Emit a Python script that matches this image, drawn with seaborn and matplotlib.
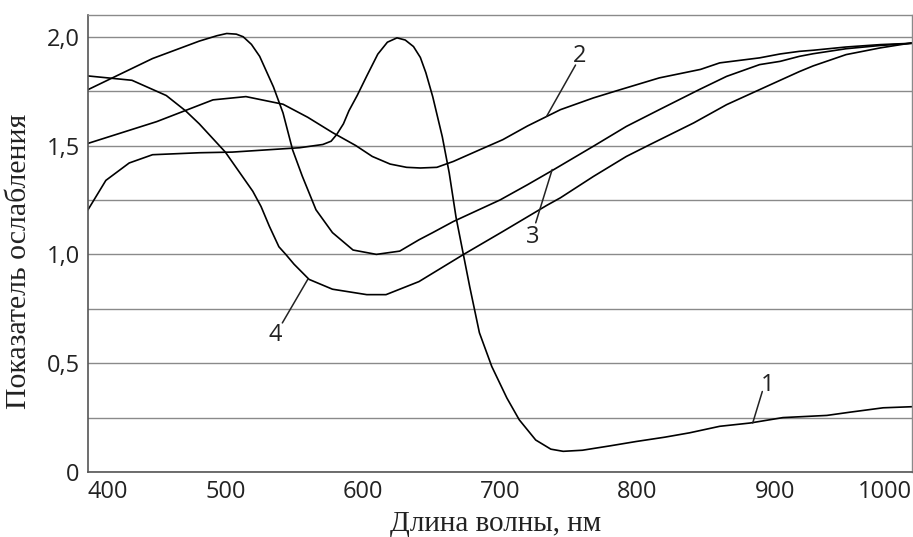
import numpy as np
import pandas as pd
import matplotlib
matplotlib.use("Agg")
import matplotlib.pyplot as plt
from matplotlib.ticker import FuncFormatter, MultipleLocator
import seaborn as sns

# wavelength (nm) / attenuation readings for the four curves
x1 = [400, 413, 430, 447, 481, 505, 554, 571, 577, 581, 586, 590, 596, 603, 611, 618, 625, 631,
      637, 642, 646, 651, 658, 663, 668, 673, 678, 685, 694, 705, 714, 726, 737, 746, 760, 780,
      799, 820, 838, 860, 882, 906, 938, 955, 979, 1000]
y1 = [1.205, 1.34, 1.42, 1.458, 1.467, 1.47, 1.49, 1.505, 1.52, 1.55, 1.60, 1.66, 1.73, 1.82,
      1.92, 1.975, 1.995, 1.985, 1.955, 1.905, 1.835, 1.725, 1.54, 1.375, 1.17, 1.01, 0.85, 0.64,
      0.485, 0.34, 0.24, 0.147, 0.105, 0.095, 0.10, 0.12, 0.14, 0.16, 0.18, 0.21, 0.225, 0.25,
      0.26, 0.275, 0.295, 0.30]

x2 = [400, 450, 491, 515, 542, 560, 578, 595, 607, 620, 632, 642, 654, 666, 685, 702, 720,
      744, 768, 785, 816, 846, 860, 889, 904, 918, 928, 952, 977, 1000]
y2 = [1.51, 1.61, 1.71, 1.725, 1.69, 1.63, 1.56, 1.50, 1.45, 1.415, 1.40, 1.397, 1.40, 1.427,
      1.48, 1.527, 1.59, 1.665, 1.719, 1.752, 1.811, 1.85, 1.88, 1.903, 1.921, 1.933, 1.938,
      1.953, 1.964, 1.97]

x3 = [400, 447, 481, 494, 501, 508, 513, 519, 525, 535, 542, 549, 556, 566, 578, 593, 610, 627,
      641, 651, 666, 700, 720, 739, 768, 792, 816, 845, 865, 889, 904, 918, 928, 952, 977, 1000]
y3 = [1.757, 1.90, 1.98, 2.005, 2.015, 2.012, 2.0, 1.965, 1.91, 1.77, 1.65, 1.48, 1.36, 1.205,
      1.10, 1.02, 1.0, 1.015, 1.067, 1.10, 1.151, 1.25, 1.32, 1.389, 1.497, 1.588, 1.665, 1.757,
      1.818, 1.872, 1.887, 1.91, 1.922, 1.945, 1.96, 1.97]

x4 = [400, 432, 457, 471, 481, 500, 520, 526, 532, 539, 544, 550, 561, 578, 603, 617, 641,
      673, 702, 734, 744, 768, 792, 809, 841, 865, 889, 904, 918, 928, 952, 977, 1000]
y4 = [1.82, 1.80, 1.73, 1.66, 1.60, 1.47, 1.29, 1.22, 1.13, 1.035, 1.0, 0.955, 0.885, 0.84,
      0.815, 0.815, 0.875, 0.998, 1.105, 1.225, 1.26, 1.358, 1.45, 1.504, 1.604, 1.688, 1.757,
      1.80, 1.84, 1.866, 1.918, 1.949, 1.972]

# curve labels: text, text position, leader line ends
labels = ["1", "2", "3", "4"]
label_text_xy = [(895, 0.40), (758, 1.91), (724, 1.08), (536, 0.63)]
label_line_from = [(891, 0.37), (755, 1.87), (726, 1.145), (541.5, 0.685)]
label_line_to = [(884, 0.225), (734, 1.635), (738, 1.39), (560, 0.885)]

sns.set_style("white")
plt.rcParams['font.family'] = ['Open Sans', 'DejaVu Sans']

fig = plt.figure(figsize=(9.13, 5.37), dpi=100)
ax = fig.add_axes([88 / 913, 1 - 472 / 537, 824 / 913, 457 / 537])

for xs, ys in [(x1, y1), (x2, y2), (x3, y3), (x4, y4)]:
    d = pd.DataFrame({'x': xs, 'y': ys})
    sns.lineplot(data=d, x='x', y='y', ax=ax, color='black', linewidth=1.2, sort=False)

for lab, txy, p0, p1 in zip(labels, label_text_xy, label_line_from, label_line_to):
    ax.text(txy[0], txy[1], lab, fontsize=17, ha='center', va='center', color='#222222')
    ax.plot([p0[0], p1[0]], [p0[1], p1[1]], color='#222222', linewidth=1.1)

ax.set_xlim(400, 1000)
ax.set_ylim(0, 2.1)
ax.yaxis.set_major_locator(MultipleLocator(0.5))
ax.yaxis.set_minor_locator(MultipleLocator(0.25))
ax.yaxis.set_major_formatter(FuncFormatter(lambda v, p: '0' if v == 0 else f'{v:.1f}'.replace('.', ',')))
ax.set_xticks([400, 500, 600, 700, 800, 900, 1000])
ax.grid(axis='y', which='both', color='#8a8a8a', linewidth=1.0)
ax.set_axisbelow(True)

ax.tick_params(axis='y', which='both', length=0, labelsize=17, pad=6, labelcolor='#222222')
ax.tick_params(axis='x', direction='in', length=7, width=1.2, color='#333333',
               labelsize=17, pad=6, labelcolor='#222222')
xt = ax.get_xticklabels()
xt[0].set_ha('left')
xt[-1].set_ha('right')

for s in ['top', 'right']:
    ax.spines[s].set_color('#8a8a8a')
    ax.spines[s].set_linewidth(1.0)
for s in ['left', 'bottom']:
    ax.spines[s].set_color('#555555')
    ax.spines[s].set_linewidth(1.2)

ax.set_xlabel('Длина волны, нм', family=['Liberation Serif'], fontsize=21, color='#222222')
ax.set_ylabel('Показатель ослабления', family=['Liberation Serif'], fontsize=21.5, color='#222222')
ax.xaxis.set_label_coords(0.495, -0.085)
ax.yaxis.set_label_coords(-0.068, 0.46)

fig.savefig('out.png', dpi=100)
